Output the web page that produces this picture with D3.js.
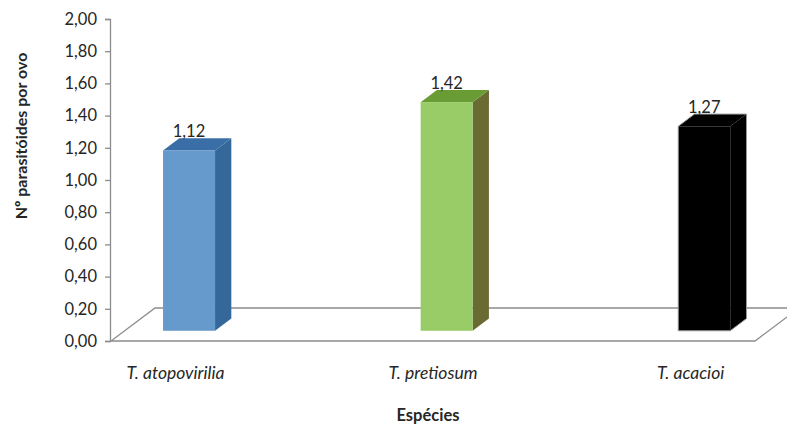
<!DOCTYPE html>
<html>
<head>
<meta charset="utf-8">
<script src="https://cdn.jsdelivr.net/npm/d3@7"></script>
<style>
  html, body { margin: 0; padding: 0; background: #fff; }
  svg { display: block; }
  text { font-family: Lato, "Open Sans", sans-serif; fill: #262626; }
</style>
</head>
<body>
<svg id="chart" width="787" height="425"></svg>
<script>
// Parasitoids per egg for three Trichogramma species
const species = ["T. atopovirilia", "T. pretiosum", "T. acacioi"];
const values = [1.12, 1.42, 1.27];
const yTicks = [0, 0.2, 0.4, 0.6, 0.8, 1.0, 1.2, 1.4, 1.6, 1.8, 2.0];
const frontColors = ["#6699cc", "#99cc66", "#000000"];
const topColors = ["#3a6ea6", "#6a9c36", "#000000"];
const sideColors = ["#35679b", "#6a6a33", "#000000"];
const edgeColors = ["none", "none", "#9a9a9a"];

const svg = d3.select("#chart");
const fmt = v => d3.format(".2f")(v).replace(".", ",");

// front plane scales
const x = d3.scalePoint().domain(species).range([111, 755]).padding(0.25);
const y = d3.scaleLinear().domain([0, 2]).range([341, 19]);

// depth of the floor (3D offset from front to back)
const depth = { dx: 44, dy: -33 };
const off = t => [depth.dx * t, depth.dy * t];
const barFront = 0.31, barBack = 0.68;
const barW = 52;

// floor
const [fx0, fx1] = x.range();
const [bdx, bdy] = off(1);
const y0 = y(0);
svg.append("path")
  .attr("d", `M${fx0},${y0} L${fx1},${y0} L${fx1 + bdx},${y0 + bdy} L${fx0 + bdx},${y0 + bdy} Z`)
  .attr("fill", "#fff")
  .attr("stroke", "#8c8c8c")
  .attr("stroke-width", 1.3);

// value axis
const axis = svg.append("g").attr("transform", `translate(${fx0 - 1},0)`)
  .call(d3.axisLeft(y).tickValues(yTicks).tickFormat(fmt).tickSize(5).tickPadding(8));
axis.select(".domain").attr("stroke", "#8c8c8c").attr("stroke-width", 1.3);
axis.selectAll(".tick line").attr("stroke", "#8c8c8c").attr("stroke-width", 1.3);
axis.selectAll(".tick text").attr("font-size", 16.5).attr("font-family", "Lato, sans-serif").attr("fill", "#262626");

// bars
const bars = svg.append("g");
species.forEach((s, i) => {
  const v = values[i];
  const [ox, oy] = off(barFront);
  const [bx, by] = off(barBack);
  const ddx = bx - ox, ddy = by - oy;
  const cx = x(s) + ox;
  const left = cx - barW / 2, right = cx + barW / 2;
  const base = y(0) + oy, top = y(v) + oy;
  const g = bars.append("g");
  // side face
  g.append("path")
    .attr("d", `M${right},${base} L${right + ddx},${base + ddy} L${right + ddx},${top + ddy} L${right},${top} Z`)
    .attr("fill", sideColors[i]);
  // top face
  g.append("path")
    .attr("d", `M${left},${top} L${right},${top} L${right + ddx},${top + ddy} L${left + ddx},${top + ddy} Z`)
    .attr("fill", topColors[i]);
  // front face
  g.append("rect")
    .attr("x", left).attr("y", top).attr("width", barW).attr("height", base - top)
    .attr("fill", frontColors[i]);
  // silhouette outline
  if (edgeColors[i] !== "none") {
    g.append("path")
      .attr("d", `M${left},${base} L${left},${top} L${left + ddx},${top + ddy} L${right + ddx},${top + ddy} L${right + ddx},${base + ddy} L${right},${base} Z`)
      .attr("fill", "none").attr("stroke", edgeColors[i]).attr("stroke-width", 1);
  }
  // value label
  g.append("text")
    .attr("x", cx).attr("y", top + ddy - 1)
    .attr("text-anchor", "middle")
    .attr("font-size", 16.5)
    .text(fmt(v));
});

// category labels
svg.append("g").selectAll("text").data(species).join("text")
  .attr("x", d => x(d))
  .attr("y", 379)
  .attr("text-anchor", "middle")
  .attr("font-size", 17.5)
  .attr("font-style", "italic")
  .text(d => d);

// axis titles
svg.append("text")
  .attr("x", 428).attr("y", 421)
  .attr("text-anchor", "middle")
  .attr("font-size", 16.5)
  .attr("font-weight", "bold")
  .text("Espécies");

svg.append("text")
  .attr("transform", "translate(27,136) rotate(-90)")
  .attr("text-anchor", "middle")
  .attr("font-size", 16)
  .attr("font-weight", "bold")
  .text("Nº parasitóides por ovo");
</script>
</body>
</html>
